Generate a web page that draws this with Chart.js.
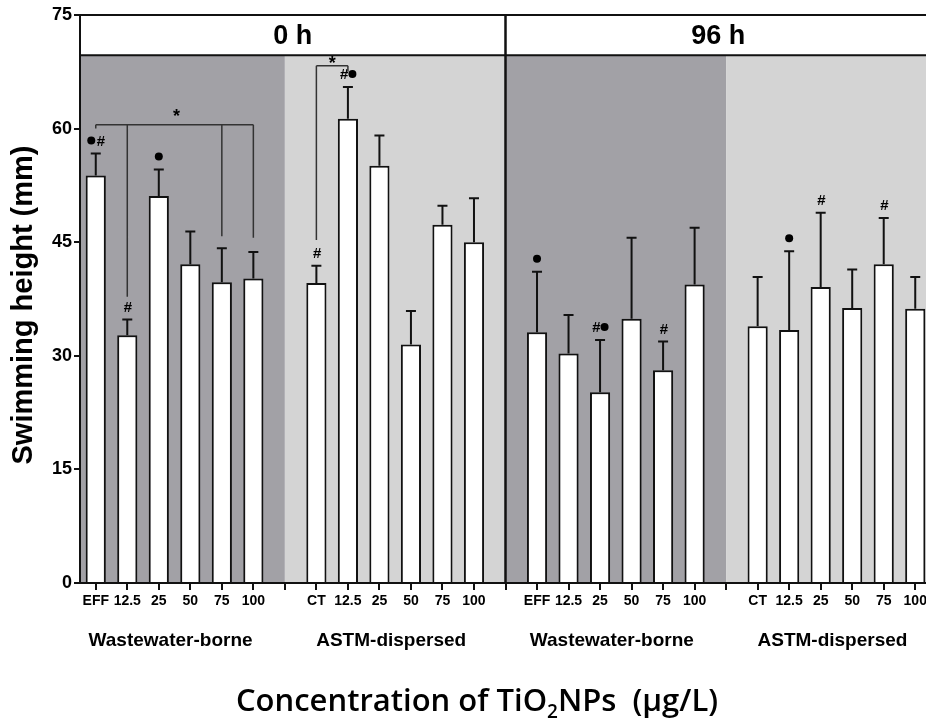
<!DOCTYPE html>
<html>
<head>
<meta charset="utf-8">
<script src="https://cdn.jsdelivr.net/npm/chart.js@4.4.1/dist/chart.umd.min.js"></script>
<style>
  html, body { margin: 0; padding: 0; background: #fff; overflow: hidden; }
  #wrap { position: absolute; left: 0; top: 0; width: 931px; height: 720px; }
</style>
</head>
<body>
<div id="wrap"><canvas id="chart"></canvas></div>
<script>
// Catégories (une case vide sépare chaque groupe)
const wbLabels = ['EFF', '12.5', '25', '50', '75', '100'];
const astmLabels = ['CT', '12.5', '25', '50', '75', '100'];
const groupNames = ['Wastewater-borne', 'ASTM-dispersed', 'Wastewater-borne', 'ASTM-dispersed'];
const timeLabels = ['0 h', '96 h'];
const yTicks = [0, 15, 30, 45, 60, 75];

// Moyennes (mm) et écarts (barre d'erreur vers le haut)
const wb0 = [53.8, 32.7, 51.1, 42.1, 39.7, 40.2];
const wb0Err = [2.9, 2.1, 3.5, 4.3, 4.5, 3.5];
const astm0 = [39.6, 61.3, 55.1, 31.5, 47.3, 45.0];
const astm0Err = [2.3, 4.2, 4.0, 4.4, 2.5, 5.8];
const wb96 = [33.1, 30.3, 25.2, 34.9, 28.1, 39.4];
const wb96Err = [8.0, 5.1, 6.9, 10.7, 3.8, 7.5];
const astm96 = [33.9, 33.4, 39.1, 36.3, 42.1, 36.2];
const astm96Err = [6.5, 10.4, 9.8, 5.1, 6.1, 4.2];

// Marques de signification (• et #)
const wb0Marks = ['•#', '#', '•', '', '', ''];
const astm0Marks = ['#', '#•', '', '', '', ''];
const wb96Marks = ['•', '', '#•', '', '#', ''];
const astm96Marks = ['', '•', '#', '', '#', ''];

const headerBottom = 69.7; // limite basse du bandeau "0 h / 96 h"

// Construction des tableaux complets (null dans les cases vides)
const labels = [...wbLabels, '', ...astmLabels, '', ...wbLabels, '', ...astmLabels];
const values = [...wb0, null, ...astm0, null, ...wb96, null, ...astm96];
const errors = [...wb0Err, null, ...astm0Err, null, ...wb96Err, null, ...astm96Err];
const marks = [...wb0Marks, '', ...astm0Marks, '', ...wb96Marks, '', ...astm96Marks];

// Crochets avec astérisque : hauteur du trait horizontal, de l'étoile, et bas de chaque trait vertical
const brackets = [
  { y: 60.5, star: 62.0, drops: [[0, 60.0], [1, 37.8], [4, 45.8], [5, 45.6]] },
  { y: 68.3, star: 69.0, drops: [[7, 45.3], [8, 67.5]] }
];

const decorPlugin = {
  id: 'decor',
  beforeDraw(chart) {
    const { ctx, chartArea: a, scales: { x, y } } = chart;
    const yHead = y.getPixelForValue(headerBottom);
    const edges = [a.left, x.getPixelForValue(6), x.getPixelForValue(13), x.getPixelForValue(20), a.right];
    const fills = ['#a2a1a6', '#d4d4d4', '#a2a1a6', '#d4d4d4'];
    ctx.save();
    for (let i = 0; i < 4; i++) {
      ctx.fillStyle = fills[i];
      ctx.fillRect(edges[i], yHead, edges[i + 1] - edges[i], a.bottom - yHead);
    }
    ctx.restore();
  },
  afterDatasetsDraw(chart) {
    const { ctx, chartArea: a, scales: { x, y } } = chart;
    ctx.save();
    // Barres d'erreur
    ctx.strokeStyle = '#111';
    ctx.lineWidth = 2;
    values.forEach((v, i) => {
      if (v == null) return;
      const px = x.getPixelForValue(i);
      const top = y.getPixelForValue(v + errors[i]);
      ctx.beginPath();
      ctx.moveTo(px, y.getPixelForValue(v));
      ctx.lineTo(px, top);
      ctx.moveTo(px - 5, top);
      ctx.lineTo(px + 5, top);
      ctx.stroke();
      // Marques
      const m = marks[i];
      if (m) {
        const my = top - 13;
        const w = m.length * 9;
        let cx = px - w / 2 + 4.5;
        for (const ch of m) {
          ctx.fillStyle = '#000';
          if (ch === '•') {
            ctx.beginPath();
            ctx.arc(cx, my, 4, 0, Math.PI * 2);
            ctx.fill();
          } else {
            ctx.font = 'italic bold 15px "Liberation Sans", Arial';
            ctx.textAlign = 'center';
            ctx.textBaseline = 'middle';
            ctx.fillText(ch, cx + 0.5, my + 1);
          }
          cx += 9;
        }
      }
    });
    // Crochets
    ctx.strokeStyle = '#333';
    ctx.lineWidth = 1.5;
    brackets.forEach(b => {
      const xs = b.drops.map(d => x.getPixelForValue(d[0]));
      const by = y.getPixelForValue(b.y);
      ctx.beginPath();
      ctx.moveTo(xs[0], by);
      ctx.lineTo(xs[xs.length - 1], by);
      b.drops.forEach((d, k) => {
        ctx.moveTo(xs[k], by);
        ctx.lineTo(xs[k], y.getPixelForValue(d[1]));
      });
      ctx.stroke();
      ctx.fillStyle = '#000';
      ctx.font = 'bold 18px "Liberation Sans", Arial';
      ctx.textAlign = 'center';
      ctx.textBaseline = 'middle';
      ctx.fillText('*', (xs[0] + xs[xs.length - 1]) / 2 + (xs.length > 2 ? 2 : 0), y.getPixelForValue(b.star) + 4);
    });
    // Bandeau "0 h" / "96 h"
    const yHead = y.getPixelForValue(headerBottom);
    const sep = x.getPixelForValue(13);
    ctx.fillStyle = '#fff';
    ctx.fillRect(a.left + 1, a.top, a.right - a.left, yHead - a.top);
    ctx.strokeStyle = '#111';
    ctx.lineWidth = 2;
    ctx.beginPath();
    ctx.moveTo(a.left, a.top);
    ctx.lineTo(a.right, a.top);
    ctx.moveTo(a.left, yHead);
    ctx.lineTo(a.right, yHead);
    ctx.stroke();
    ctx.lineWidth = 2.5;
    ctx.beginPath();
    ctx.moveTo(sep, a.top);
    ctx.lineTo(sep, a.bottom);
    ctx.stroke();
    ctx.fillStyle = '#000';
    ctx.font = 'bold 27px "Liberation Sans", Arial';
    ctx.textAlign = 'center';
    ctx.textBaseline = 'middle';
    ctx.fillText(timeLabels[0], (a.left + sep) / 2, (a.top + yHead) / 2 + 1);
    ctx.fillText(timeLabels[1], (sep + a.right) / 2, (a.top + yHead) / 2 + 1);

    // Noms des groupes
    ctx.font = 'bold 19px "Liberation Sans", Arial';
    const centers = [2.5, 9.5, 16.5, 23.5];
    groupNames.forEach((g, k) => {
      ctx.fillText(g, x.getPixelForValue(centers[k]) - 4, 641);
    });

    // Titre de l'axe Y
    ctx.save();
    ctx.translate(24, 305);
    ctx.rotate(-Math.PI / 2);
    ctx.font = 'bold 29px "Liberation Sans", Arial';
    ctx.fillText('Swimming height (mm)', 0, 0);
    ctx.restore();

    // Titre de l'axe X avec indice
    ctx.textAlign = 'left';
    ctx.textBaseline = 'alphabetic';
    const big = '600 31px "Open Sans", Lato, sans-serif';
    const small = '600 19px "Open Sans", Lato, sans-serif';
    const parts = [['Concentration of TiO', big, 0], ['2', small, 7], ['NPs  (μg/L)', big, 0]];
    let total = 0;
    parts.forEach(p => { ctx.font = p[1]; total += ctx.measureText(p[0]).width; });
    let tx = 477 - total / 2;
    parts.forEach(p => {
      ctx.font = p[1];
      ctx.fillText(p[0], tx, 711 + p[2]);
      tx += ctx.measureText(p[0]).width;
    });
    ctx.restore();
  }
};

const ctx = document.getElementById('chart');
new Chart(ctx, {
  type: 'bar',
  data: {
    labels: labels,
    datasets: [{
      data: values,
      backgroundColor: '#fff',
      borderColor: '#111',
      borderWidth: 2,
      borderSkipped: 'bottom',
      barPercentage: 0.64,
      categoryPercentage: 1
    }]
  },
  options: {
    responsive: true,
    maintainAspectRatio: false,
    animation: false,
    layout: { padding: { top: 15, right: 0, bottom: 0, left: 0 } },
    plugins: { legend: { display: false }, tooltip: { enabled: false } },
    scales: {
      x: {
        afterFit: s => { s.height = 137; },
        grid: { display: true, drawOnChartArea: false, drawTicks: true, tickLength: 7, color: '#111', lineWidth: 2, offset: false },
        border: { color: '#111', width: 2 },
        ticks: {
          color: '#000',
          autoSkip: false,
          maxRotation: 0,
          padding: 3,
          font: { family: '"Liberation Sans", Arial', size: 14, weight: 'bold' }
        }
      },
      y: {
        min: 0,
        max: 75,
        afterFit: s => { s.width = 80; },
        afterBuildTicks: s => { s.ticks = yTicks.map(v => ({ value: v })); },
        grid: { display: true, drawOnChartArea: false, drawTicks: true, tickLength: 6, color: '#111', lineWidth: 2 },
        border: { color: '#111', width: 2 },
        ticks: {
          color: '#000',
          padding: 2,
          font: { family: '"Liberation Sans", Arial', size: 18, weight: 'bold' }
        }
      }
    }
  },
  plugins: [decorPlugin]
});
</script>
</body>
</html>
